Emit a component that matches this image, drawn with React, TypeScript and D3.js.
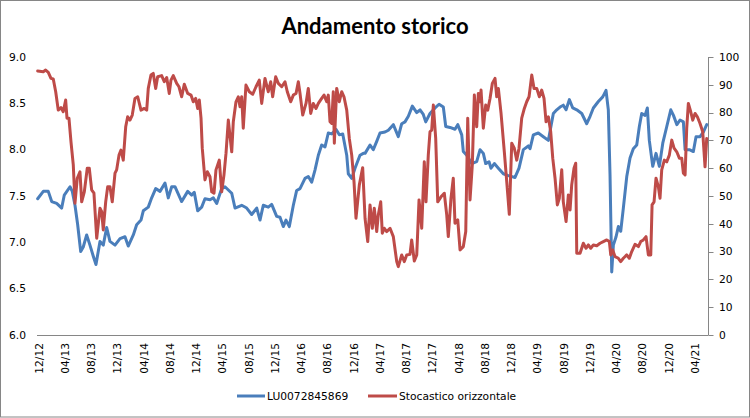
import React from "react";
import * as d3 from "d3";

// Months counted from Dec 2012 (0 = 12/12)
const blueMonths = [-0.2,0.66,1.42,1.94,2.7,3.46,3.86,4.73,5.08,5.49,5.9,6.36,6.75,7.27,7.77,8.28,8.69,9.3,9.8,10.32,10.82,11.59,12.35,13.11,13.61,14.38,14.89,15.55,15.9,16.66,17.18,17.79,18.45,19.21,19.71,20.23,20.73,21.75,22.67,23.28,23.67,24.19,24.8,25.3,26.07,26.57,27.09,27.85,28.35,29.38,29.88,30.9,31.66,32.42,33.19,33.69,34.19,34.95,35.47,36.23,36.74,37.24,37.65,38.16,38.77,39.28,39.79,40.55,41.05,41.57,42.07,42.58,43.09,43.6,44.1,44.62,45.27,45.78,46.3,46.91,47.15,47.67,48.17,48.93,49.44,49.7,50.46,50.96,51.48,51.98,52.74,53.25,54.01,54.77,55.29,55.79,56.3,56.91,57.58,58.08,58.58,58.95,59.6,60.37,60.98,61.63,62.0,62.65,63.41,63.83,64.44,64.68,65.2,65.96,66.72,67.23,67.73,68.09,68.6,68.9,69.41,70.02,70.78,71.54,72.56,73.17,73.83,74.59,74.85,75.35,76.11,76.88,77.64,78.16,78.4,78.92,79.42,79.92,80.34,80.84,81.36,81.97,82.73,83.49,84.0,84.5,85.26,85.93,86.43,86.78,87.04,87.3,87.55,87.96,88.31,88.67,89.07,89.59,90.09,90.59,91.11,91.51,91.87,92.38,92.73,93.03,93.55,94.05,94.56,95.08,95.69,96.3,96.71,97.23,97.71,98.22,98.48,99.13,99.74,100.15,100.76,101.26,101.78];
const blueValues = [7.47,7.55,7.55,7.44,7.42,7.37,7.51,7.6,7.55,7.4,7.19,6.9,6.95,7.08,6.97,6.85,6.76,7.01,6.97,7.16,7.01,6.97,7.04,7.06,6.96,7.08,7.19,7.24,7.34,7.38,7.48,7.58,7.55,7.64,7.48,7.6,7.6,7.44,7.55,7.51,7.54,7.34,7.38,7.47,7.46,7.48,7.42,7.58,7.6,7.53,7.37,7.4,7.37,7.3,7.37,7.24,7.4,7.38,7.41,7.28,7.27,7.17,7.24,7.17,7.4,7.56,7.58,7.69,7.71,7.65,7.78,7.94,8.05,8.03,8.18,8.17,8.22,8.16,8.17,7.94,7.74,7.69,7.8,7.94,7.96,7.96,8.05,8.0,8.09,8.18,8.19,8.21,8.27,8.14,8.28,8.3,8.36,8.47,8.4,8.43,8.38,8.3,8.39,8.45,8.49,8.46,8.25,8.24,8.22,8.27,8.16,7.98,7.94,7.85,7.87,8.0,7.96,7.85,7.87,7.8,7.85,7.8,7.74,7.72,7.7,7.8,8.0,8.04,8.01,8.16,8.18,8.14,8.1,8.3,8.39,8.43,8.46,8.48,8.43,8.54,8.45,8.43,8.39,8.28,8.36,8.45,8.52,8.57,8.64,8.43,7.73,6.68,6.97,7.06,7.17,7.12,7.37,7.71,7.91,8.01,8.05,8.25,8.39,8.37,8.45,8.1,7.82,7.96,7.82,8.07,8.25,8.43,8.37,8.27,8.32,8.3,8.0,8.0,7.98,8.14,8.14,8.19,8.27];

const redMonths = [-0.2,0.66,1.02,1.42,1.83,2.18,2.55,2.94,3.35,3.7,4.07,4.27,4.57,4.88,5.23,5.49,5.84,6.25,6.51,6.91,7.36,7.67,8.03,8.38,8.8,9.3,9.56,9.8,10.17,10.47,10.82,11.17,11.59,11.84,12.2,12.5,12.85,13.22,13.52,13.87,14.22,14.63,15.05,15.55,16.05,16.42,16.66,17.07,17.42,17.79,18.09,18.7,19.1,19.47,19.86,20.12,20.47,20.99,21.34,21.75,22.15,22.67,23.17,23.52,23.89,24.19,24.44,24.7,24.89,25.3,25.66,26.07,26.33,26.68,26.98,27.48,27.85,28.2,28.51,28.86,29.38,29.62,30.03,30.38,30.64,30.9,31.14,31.55,32.06,32.58,33.08,33.58,33.95,34.45,34.95,35.32,35.62,36.08,36.48,37.0,37.5,37.85,38.37,38.77,39.18,39.53,39.79,40.2,40.7,41.05,41.42,41.81,42.23,42.58,43.09,43.45,43.86,44.1,44.36,44.62,44.86,45.02,45.38,45.78,46.14,46.49,46.91,47.3,47.67,48.02,48.32,48.83,49.34,49.7,50.11,50.46,50.81,51.11,51.48,51.72,52.09,52.33,52.64,53.0,53.51,54.01,54.53,54.77,55.29,55.69,56.05,56.55,56.81,57.21,57.58,57.93,58.34,58.73,58.99,59.34,59.6,59.86,60.11,60.47,60.78,61.28,61.78,62.15,62.39,62.8,63.15,63.41,63.83,64.18,64.68,65.05,65.35,65.7,66.05,66.36,66.72,66.97,67.23,67.38,67.73,68.09,68.4,68.75,69.1,69.51,69.77,70.02,70.43,70.93,71.3,71.69,72.06,72.45,72.82,73.17,73.58,73.98,74.34,74.7,75.11,75.46,75.87,76.27,76.63,76.98,77.29,77.64,78.0,78.31,78.66,79.01,79.31,79.68,79.92,80.34,80.69,80.95,81.2,81.55,81.81,81.97,82.47,82.97,83.38,83.74,84.1,84.5,85.02,85.52,86.02,86.54,86.94,87.15,87.45,87.8,88.31,88.67,89.07,89.59,89.98,90.35,90.85,91.36,91.72,92.12,92.53,92.88,93.25,93.45,93.75,94.05,94.41,94.66,94.92,95.32,95.69,96.08,96.45,96.8,97.21,97.61,97.97,98.22,98.48,98.73,98.98,99.34,99.65,100.0,100.35,100.76,101.17,101.52,101.78];
const redValues = [95.0,94.7,95.3,94.5,92.3,92.1,87.5,80.9,81.8,80.3,84.5,78.0,78.0,69.5,61.2,47.4,56.4,58.7,47.9,51.5,60.0,60.0,52.2,51.0,34.8,45.6,44.4,37.8,47.9,53.3,53.3,47.9,58.2,59.4,64.7,66.5,62.9,74.9,78.5,77.3,79.1,85.1,85.7,80.9,81.5,80.9,88.7,93.5,94.1,88.7,92.9,93.3,91.1,92.6,86.9,91.7,93.3,90.5,89.3,85.7,90.2,86.9,86.3,83.9,85.1,81.5,84.5,78.0,67.2,55.8,58.7,56.9,51.5,51.0,59.4,62.9,51.5,57.6,65.4,77.3,65.9,76.7,83.9,85.7,82.1,85.7,74.4,89.9,87.5,86.6,89.3,91.7,83.3,92.3,87.5,91.1,85.7,92.9,90.5,89.3,91.1,87.5,83.9,86.3,86.9,91.1,86.9,79.1,83.3,88.7,79.7,83.3,81.5,83.3,85.1,86.3,83.9,86.3,76.7,76.1,87.5,69.0,88.7,83.9,87.5,85.7,80.9,70.7,64.7,55.1,42.0,54.0,60.2,42.0,33.6,46.8,38.4,45.6,37.2,43.2,47.9,36.6,38.4,37.2,38.4,35.4,26.4,24.6,28.8,26.4,28.8,29.0,34.2,26.6,28.8,48.6,38.4,62.3,47.9,64.7,73.1,73.7,82.7,70.7,47.9,49.7,51.0,43.2,35.4,49.2,56.4,40.2,41.4,30.6,31.8,37.2,78.0,48.6,61.2,86.3,74.9,86.9,83.9,88.1,74.4,82.7,80.9,85.1,90.5,92.3,85.7,88.7,79.7,65.9,55.1,43.4,69.0,67.2,62.9,67.2,78.0,81.5,83.9,85.7,93.5,88.7,88.7,85.7,88.1,85.1,76.7,78.5,73.1,63.6,56.4,46.8,49.2,59.4,47.9,40.8,50.4,45.0,54.0,60.0,61.8,29.4,29.4,33.0,31.2,32.4,31.2,32.4,32.1,33.0,33.6,34.2,33.6,28.8,30.6,28.2,27.6,26.4,27.6,28.8,27.6,30.0,32.6,31.8,33.6,34.2,35.4,28.8,28.8,46.8,47.9,56.4,53.3,49.2,59.4,62.9,62.3,64.7,70.1,67.2,65.9,63.6,63.6,58.2,57.6,74.4,83.3,80.3,77.3,79.7,78.5,76.1,73.1,60.5,70.7];

const xTickLabels = ["12/12","04/13","08/13","12/13","04/14","08/14","12/14","04/15","08/15","12/15","04/16","08/16","12/16","04/17","08/17","12/17","04/18","08/18","12/18","04/19","08/19","12/19","04/20","08/20","12/20","04/21"];
const xTickMonths = xTickLabels.map((_, i) => i * 4);
const leftTicks = [6.0, 6.5, 7.0, 7.5, 8.0, 8.5, 9.0];
const rightTicks = [0, 10, 20, 30, 40, 50, 60, 70, 80, 90, 100];
const seriesNames = ["LU0072845869", "Stocastico orizzontale"];
const title = "Andamento storico";

const BLUE = "#4A7EBB";
const RED = "#BE4B48";
const AXIS = "#868686";
const FONT = "'DejaVu Sans', Verdana, sans-serif";

export default function App() {
  const W = 750, H = 418;
  const left = 37, right = 708.5, top = 57, bottom = 335;
  const x = d3.scaleLinear().domain([-0.3, 102.05]).range([left, right]);
  const yL = d3.scaleLinear().domain([6, 9]).range([bottom, top]);
  const yR = d3.scaleLinear().domain([0, 100]).range([bottom, top]);

  const blueLine = d3.line<number>().x((_, i) => x(blueMonths[i])).y((v) => yL(v));
  const redLine = d3.line<number>().x((_, i) => x(redMonths[i])).y((v) => yR(v));

  return (
    <div style={{ position: "fixed", left: 0, top: 0 }}>
      <svg width={W} height={H} style={{ display: "block", background: "#fff" }}>
        <rect x={0.5} y={0.5} width={W - 1} height={H - 1.5} fill="#fff" stroke={AXIS} strokeWidth={1} />
        <text x={375} y={34} textAnchor="middle" fontFamily="Lato, 'Open Sans', sans-serif" fontWeight="bold" fontSize={22} fill="#000">{title}</text>

        {leftTicks.map((t) => (
          <text key={"l" + t} x={26} y={yL(t)} dy="0.35em" textAnchor="end" fontFamily={FONT} fontSize={10.7} fill="#000">{t.toFixed(1)}</text>
        ))}

        <line x1={right} x2={right} y1={top} y2={bottom} stroke={AXIS} strokeWidth={1} />
        {rightTicks.map((t) => (
          <g key={"r" + t}>
            <line x1={right} x2={right + 5} y1={Math.round(yR(t)) + 0.5} y2={Math.round(yR(t)) + 0.5} stroke={AXIS} strokeWidth={1} />
            <text x={719} y={yR(t)} dy="0.35em" textAnchor="start" fontFamily={FONT} fontSize={10.7} fill="#000">{t}</text>
          </g>
        ))}

        <line x1={left} x2={right} y1={bottom + 0.5} y2={bottom + 0.5} stroke={AXIS} strokeWidth={1} />
        {xTickLabels.map((lab, i) => (
          <text key={lab} transform={`translate(${x(xTickMonths[i])},${bottom + 8}) rotate(-90)`} dy="0.35em" textAnchor="end" fontFamily={FONT} fontSize={10.7} fill="#000">{lab}</text>
        ))}

        <path d={blueLine(blueValues) || ""} fill="none" stroke={BLUE} strokeWidth={3} strokeLinejoin="round" strokeLinecap="round" />
        <path d={redLine(redValues) || ""} fill="none" stroke={RED} strokeWidth={3} strokeLinejoin="round" strokeLinecap="round" />

        <line x1={237} x2={265} y1={396} y2={396} stroke={BLUE} strokeWidth={3} />
        <text x={267} y={396} dy="0.35em" fontFamily={FONT} fontSize={10.7} fill="#000">{seriesNames[0]}</text>
        <line x1={368} x2={397} y1={396} y2={396} stroke={RED} strokeWidth={3} />
        <text x={399} y={396} dy="0.35em" fontFamily={FONT} fontSize={10.7} fill="#000">{seriesNames[1]}</text>
      </svg>
    </div>
  );
}
